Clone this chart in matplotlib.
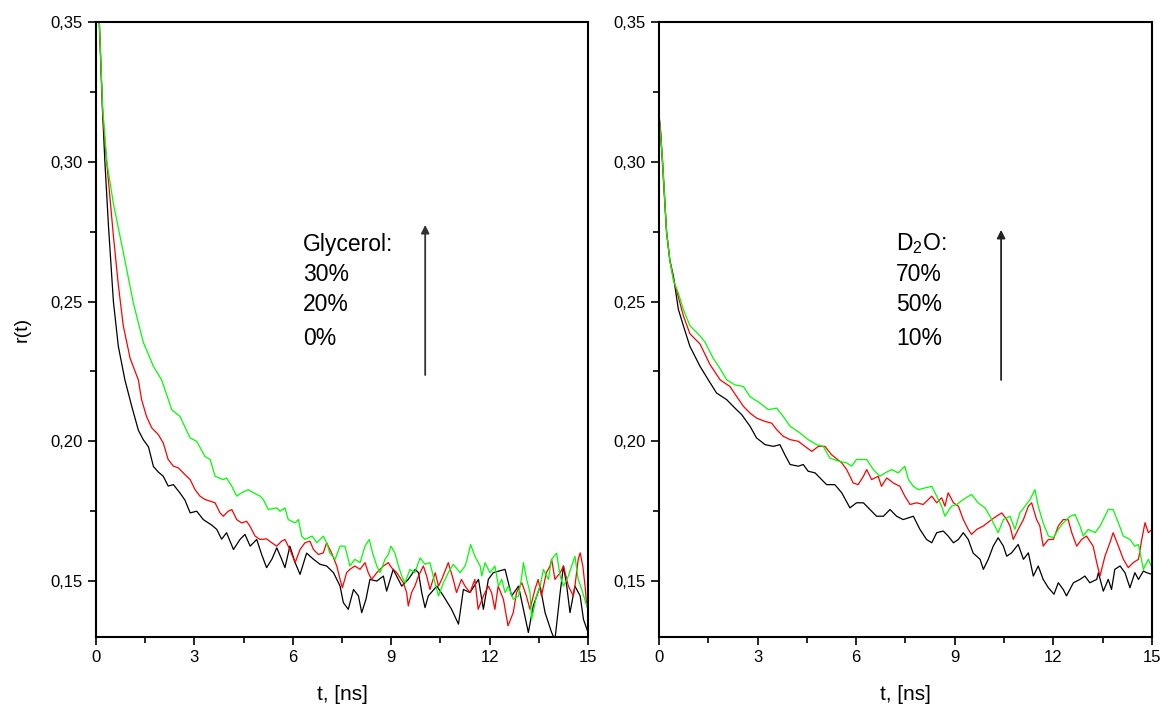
import numpy as np
import matplotlib
matplotlib.use("Agg")
import matplotlib.pyplot as plt
from matplotlib.ticker import MultipleLocator, FuncFormatter

# ---- left panel: glycerol series (t in ns, r(t)) ----
gly0_t = [0.00, 0.10, 0.20, 0.27, 0.38, 0.53, 0.68, 0.88, 1.09, 1.29, 1.44, 1.60, 1.75, 1.90, 2.05, 2.20, 2.36, 2.56, 2.71, 2.87,
          3.07, 3.27, 3.53, 3.68, 3.83, 3.98, 4.19, 4.39, 4.54, 4.70, 4.90, 5.05, 5.20, 5.36, 5.51, 5.66, 5.76, 5.91, 6.07, 6.22,
          6.42, 6.63, 6.83, 7.03, 7.24, 7.44, 7.54, 7.69, 7.85, 8.00, 8.10, 8.23, 8.35, 8.56, 8.76, 8.86, 9.06, 9.32, 9.52, 9.73,
          9.83, 9.93, 10.03, 10.13, 10.39, 10.59, 10.84, 11.05, 11.20, 11.40, 11.66, 11.81, 11.96, 12.11, 12.47, 12.67, 12.88, 13.03, 13.18, 13.33,
          13.54, 13.69, 13.89, 13.99, 14.15, 14.25, 14.35, 14.45, 14.60, 14.76, 14.86, 15.00]
gly0_r = [0.380, 0.350, 0.318, 0.300, 0.277, 0.250, 0.234, 0.222, 0.2125, 0.204, 0.2006, 0.198, 0.191, 0.189, 0.1875, 0.184, 0.1845, 0.1815, 0.179, 0.1744,
          0.175, 0.172, 0.170, 0.1685, 0.165, 0.1673, 0.1613, 0.1649, 0.1667, 0.1625, 0.1649, 0.1595, 0.1548, 0.1578, 0.1619, 0.1578, 0.1548, 0.1625, 0.1566, 0.1524,
          0.160, 0.1578, 0.156, 0.1554, 0.153, 0.1482, 0.1423, 0.1399, 0.147, 0.1447, 0.1387, 0.1435, 0.1506, 0.150, 0.1518, 0.1464, 0.1542, 0.1482, 0.1506, 0.1542,
          0.153, 0.1459, 0.1405, 0.1447, 0.1482, 0.1447, 0.1399, 0.1346, 0.147, 0.1459, 0.1506, 0.1399, 0.1506, 0.153, 0.1542, 0.1447, 0.1482, 0.1399, 0.1316, 0.1411,
          0.1482, 0.1387, 0.1316, 0.129, 0.1459, 0.1554, 0.1482, 0.1387, 0.1482, 0.1447, 0.1363, 0.1316]

gly20_t = [0.00, 0.10, 0.20, 0.27, 0.38, 0.53, 0.68, 0.83, 1.04, 1.29, 1.39, 1.54, 1.70, 1.90, 2.05, 2.20, 2.36, 2.51, 2.66, 2.87,
           3.02, 3.17, 3.32, 3.48, 3.63, 3.78, 3.88, 4.03, 4.14, 4.29, 4.44, 4.59, 4.69, 4.85, 5.00, 5.20, 5.36, 5.51, 5.66, 5.76,
           5.91, 6.07, 6.22, 6.37, 6.52, 6.63, 6.78, 6.93, 7.03, 7.18, 7.34, 7.44, 7.51, 7.64, 7.74, 7.89, 8.05, 8.20, 8.30, 8.40,
           8.56, 8.76, 8.91, 9.01, 9.17, 9.37, 9.47, 9.52, 9.62, 9.72, 9.83, 9.98, 10.08, 10.18, 10.34, 10.44, 10.54, 10.74, 10.89, 10.99,
           11.14, 11.25, 11.40, 11.55, 11.65, 11.81, 11.96, 12.06, 12.16, 12.26, 12.42, 12.56, 12.72, 12.82, 12.98, 13.12, 13.23, 13.38, 13.48, 13.58,
           13.73, 13.84, 13.89, 13.99, 14.15, 14.25, 14.40, 14.55, 14.60, 14.70, 14.76, 14.84, 14.91, 14.96, 15.00]
gly20_r = [0.380, 0.350, 0.318, 0.307, 0.293, 0.2735, 0.256, 0.2414, 0.2297, 0.222, 0.2149, 0.2089, 0.2048, 0.2024, 0.1994, 0.1935, 0.1911, 0.1905, 0.1887, 0.1863,
           0.1827, 0.1804, 0.1792, 0.1786, 0.178, 0.1744, 0.1732, 0.175, 0.1756, 0.172, 0.1708, 0.1714, 0.1697, 0.1661, 0.1649, 0.1651, 0.1637, 0.1625, 0.1643, 0.1649,
           0.1613, 0.1566, 0.1613, 0.1637, 0.1643, 0.1613, 0.1595, 0.1601, 0.1637, 0.1601, 0.1554, 0.1506, 0.1476, 0.153, 0.1542, 0.1554, 0.1542, 0.1566, 0.153, 0.1506,
           0.153, 0.1554, 0.1566, 0.1548, 0.153, 0.1494, 0.1459, 0.1411, 0.1459, 0.1482, 0.1518, 0.1554, 0.1518, 0.147, 0.153, 0.1482, 0.1506, 0.1566, 0.1506, 0.1459,
           0.1506, 0.1482, 0.1459, 0.1506, 0.1399, 0.1447, 0.1482, 0.1459, 0.1399, 0.1482, 0.1435, 0.134, 0.1387, 0.1459, 0.1494, 0.1447, 0.1399, 0.147, 0.1506, 0.1447,
           0.153, 0.1554, 0.1578, 0.1506, 0.153, 0.1554, 0.1482, 0.1447, 0.1482, 0.1578, 0.1601, 0.1554, 0.1482, 0.1411, 0.140]

gly30_t = [0.00, 0.10, 0.20, 0.33, 0.53, 0.83, 1.14, 1.44, 1.75, 2.00, 2.31, 2.56, 2.87, 3.07, 3.32, 3.48, 3.63, 3.88, 3.98, 4.14,
           4.29, 4.44, 4.64, 4.80, 5.00, 5.10, 5.25, 5.51, 5.61, 5.76, 5.86, 6.07, 6.17, 6.27, 6.37, 6.59, 6.73, 6.93, 7.03, 7.13,
           7.29, 7.44, 7.59, 7.74, 7.89, 8.05, 8.20, 8.33, 8.43, 8.56, 8.66, 8.81, 8.91, 8.99, 9.11, 9.22, 9.32, 9.42, 9.57, 9.72,
           9.88, 10.03, 10.18, 10.28, 10.44, 10.59, 10.74, 10.89, 11.10, 11.25, 11.30, 11.42, 11.55, 11.71, 11.76, 11.86, 12.01, 12.16, 12.27, 12.37,
           12.47, 12.57, 12.72, 12.88, 12.98, 13.03, 13.13, 13.23, 13.28, 13.43, 13.54, 13.64, 13.79, 13.89, 14.04, 14.15, 14.25, 14.40, 14.50, 14.60,
           14.70, 14.81, 14.96, 15.00]
gly30_r = [0.380, 0.350, 0.320, 0.300, 0.285, 0.2677, 0.2494, 0.2355, 0.2268, 0.222, 0.2113, 0.2089, 0.2012, 0.200, 0.1946, 0.1935, 0.1875, 0.1863, 0.1869, 0.1839,
           0.1804, 0.1816, 0.1827, 0.1816, 0.1804, 0.1792, 0.1756, 0.1762, 0.175, 0.1762, 0.172, 0.1708, 0.172, 0.1661, 0.1649, 0.1661, 0.1637, 0.1661, 0.1637, 0.160,
           0.1578, 0.1625, 0.1625, 0.1554, 0.1578, 0.1566, 0.1625, 0.1649, 0.1601, 0.1554, 0.153, 0.1578, 0.1595, 0.1625, 0.1601, 0.1554, 0.1518, 0.1494, 0.1542, 0.153,
           0.1583, 0.156, 0.1566, 0.1518, 0.1447, 0.1494, 0.153, 0.156, 0.153, 0.1554, 0.1572, 0.1631, 0.1589, 0.1554, 0.1518, 0.1566, 0.153, 0.1554, 0.1482, 0.1506,
           0.1459, 0.1482, 0.1435, 0.1447, 0.1518, 0.1566, 0.1506, 0.1459, 0.1363, 0.1447, 0.1482, 0.1542, 0.1506, 0.1578, 0.160, 0.1518, 0.1482, 0.1518, 0.1554, 0.1589,
           0.1506, 0.147, 0.1411, 0.143]

# ---- right panel: D2O series ----
d10_t = [0.00, 0.11, 0.23, 0.33, 0.44, 0.59, 0.74, 0.94, 1.25, 1.50, 1.75, 2.06, 2.31, 2.52, 2.77, 2.97, 3.23, 3.48, 3.68, 3.83,
         3.99, 4.24, 4.39, 4.54, 4.75, 4.95, 5.10, 5.35, 5.56, 5.81, 6.01, 6.22, 6.42, 6.62, 6.83, 7.03, 7.23, 7.43, 7.74, 7.94,
         8.14, 8.30, 8.45, 8.65, 8.80, 8.96, 9.11, 9.26, 9.41, 9.56, 9.77, 9.87, 10.02, 10.17, 10.32, 10.48, 10.58, 10.73, 10.93, 11.09,
         11.24, 11.39, 11.54, 11.69, 11.85, 12.02, 12.15, 12.30, 12.40, 12.61, 12.81, 12.96, 13.11, 13.32, 13.37, 13.52, 13.67, 13.77, 13.87, 14.03,
         14.18, 14.33, 14.48, 14.59, 14.74, 14.84, 15.00]
d10_r = [0.317, 0.300, 0.275, 0.2648, 0.259, 0.2472, 0.2414, 0.234, 0.2268, 0.222, 0.2173, 0.2149, 0.2119, 0.2095, 0.2054, 0.2012, 0.1988, 0.1982, 0.1988, 0.1952,
         0.1917, 0.1911, 0.1917, 0.1893, 0.1887, 0.1863, 0.1845, 0.1845, 0.1816, 0.1762, 0.178, 0.178, 0.1756, 0.1732, 0.1732, 0.1756, 0.1732, 0.172, 0.1732, 0.1685,
         0.1649, 0.1637, 0.1673, 0.1679, 0.1661, 0.1637, 0.1649, 0.1673, 0.1649, 0.160, 0.1578, 0.1542, 0.1578, 0.1625, 0.1655, 0.1625, 0.1589, 0.1601, 0.1631, 0.1578,
         0.1601, 0.1518, 0.1554, 0.1506, 0.1476, 0.1453, 0.1494, 0.147, 0.1447, 0.1494, 0.1506, 0.1518, 0.1494, 0.1506, 0.153, 0.1464, 0.1506, 0.147, 0.1542, 0.1554,
         0.153, 0.1476, 0.153, 0.1506, 0.1536, 0.153, 0.1524]

d50_t = [0.00, 0.06, 0.11, 0.23, 0.33, 0.44, 0.59, 0.74, 0.94, 1.25, 1.55, 1.86, 2.16, 2.36, 2.57, 2.77, 2.97, 3.23, 3.43, 3.58,
         3.78, 3.99, 4.24, 4.44, 4.65, 4.85, 5.05, 5.25, 5.56, 5.71, 5.91, 6.06, 6.22, 6.32, 6.47, 6.67, 6.77, 6.93, 7.13, 7.33,
         7.48, 7.64, 7.84, 8.04, 8.30, 8.45, 8.60, 8.70, 8.80, 8.96, 9.11, 9.26, 9.41, 9.51, 9.67, 9.87, 10.12, 10.27, 10.43, 10.58,
         10.68, 10.78, 10.93, 11.09, 11.24, 11.34, 11.49, 11.59, 11.69, 11.85, 12.00, 12.15, 12.30, 12.45, 12.56, 12.71, 12.86, 13.01, 13.21, 13.32,
         13.42, 13.57, 13.72, 13.82, 13.98, 14.13, 14.28, 14.43, 14.59, 14.69, 14.79, 14.89, 15.00]
d50_r = [0.317, 0.310, 0.298, 0.275, 0.2648, 0.258, 0.2516, 0.245, 0.2385, 0.2348, 0.2275, 0.222, 0.2196, 0.2161, 0.2125, 0.2101, 0.2083, 0.2071, 0.2065, 0.2042,
         0.2018, 0.2006, 0.200, 0.1982, 0.1964, 0.1982, 0.1982, 0.1952, 0.1923, 0.1899, 0.1851, 0.1845, 0.1875, 0.1899, 0.1863, 0.1875, 0.1839, 0.1869, 0.1851, 0.1839,
         0.1804, 0.1774, 0.178, 0.1774, 0.1804, 0.178, 0.1798, 0.1768, 0.1816, 0.178, 0.1768, 0.172, 0.1685, 0.1667, 0.1685, 0.1697, 0.172, 0.1732, 0.1744, 0.172,
         0.1697, 0.1649, 0.1685, 0.172, 0.1768, 0.178, 0.172, 0.1697, 0.1625, 0.1649, 0.1649, 0.1697, 0.172, 0.172, 0.1673, 0.1625, 0.1649, 0.1661, 0.1625, 0.1566,
         0.1518, 0.1589, 0.1637, 0.1673, 0.1625, 0.1578, 0.1548, 0.1566, 0.1578, 0.1649, 0.1709, 0.1673, 0.1685]

d70_t = [0.00, 0.11, 0.23, 0.33, 0.44, 0.59, 0.74, 0.94, 1.25, 1.40, 1.65, 1.86, 2.06, 2.31, 2.57, 2.77, 3.07, 3.33, 3.58, 3.78,
         3.99, 4.29, 4.54, 4.80, 5.00, 5.20, 5.46, 5.71, 5.86, 6.01, 6.32, 6.52, 6.72, 6.88, 7.08, 7.28, 7.48, 7.59, 7.74, 7.89,
         8.09, 8.30, 8.45, 8.60, 8.70, 8.90, 9.06, 9.26, 9.51, 9.71, 9.92, 10.07, 10.22, 10.32, 10.48, 10.68, 10.83, 10.98, 11.14, 11.29,
         11.44, 11.54, 11.69, 11.85, 12.00, 12.15, 12.30, 12.51, 12.66, 12.81, 12.91, 13.06, 13.27, 13.42, 13.52, 13.67, 13.82, 13.98, 14.13, 14.33,
         14.48, 14.59, 14.74, 14.89, 15.00]
d70_r = [0.317, 0.300, 0.275, 0.2648, 0.2575, 0.253, 0.2472, 0.2414, 0.2377, 0.2355, 0.2297, 0.226, 0.222, 0.2202, 0.2196, 0.216, 0.2137, 0.2113, 0.2119, 0.2089,
         0.2054, 0.203, 0.2006, 0.1988, 0.1982, 0.194, 0.1929, 0.1923, 0.1911, 0.1935, 0.1935, 0.1899, 0.1875, 0.1887, 0.1899, 0.1887, 0.1911, 0.1863, 0.1839, 0.1827,
         0.1833, 0.1839, 0.1804, 0.1768, 0.1732, 0.1768, 0.1774, 0.1792, 0.181, 0.178, 0.1762, 0.1732, 0.1697, 0.1673, 0.172, 0.1732, 0.1685, 0.1744, 0.1768, 0.1792,
         0.1827, 0.1768, 0.1708, 0.1661, 0.1655, 0.1685, 0.1708, 0.1732, 0.1738, 0.1697, 0.1661, 0.1685, 0.1673, 0.1697, 0.172, 0.1756, 0.1756, 0.1708, 0.1661, 0.1649,
         0.1625, 0.1631, 0.1542, 0.1578, 0.1548]

left_series = [(gly0_t, gly0_r, 'black'), (gly20_t, gly20_r, '#ff0000'), (gly30_t, gly30_r, '#00ff00')]
right_series = [(d10_t, d10_r, 'black'), (d50_t, d50_r, '#ff0000'), (d70_t, d70_r, '#00ff00')]
left_labels = ['Glycerol:', '30%', '20%', '0%']
right_labels = [r'D$_{\mathregular{2}}$O:', '70%', '50%', '10%']

plt.rcParams['font.family'] = ['Liberation Sans', 'DejaVu Sans']
plt.rcParams['mathtext.fontset'] = 'custom'
plt.rcParams['mathtext.rm'] = 'Liberation Sans'

fig = plt.figure(figsize=(11.61, 7.08), dpi=100)
ax1 = fig.add_axes([0.0827, 0.1003, 0.4238, 0.8686])
ax2 = fig.add_axes([0.5676, 0.1003, 0.4246, 0.8686])

comma = FuncFormatter(lambda v, p: ('%.2f' % v).replace('.', ','))

for ax, series in [(ax1, left_series), (ax2, right_series)]:
    for t, r, c in series:
        ax.plot(t, r, color=c, lw=0.9)
    ax.set_xlim(0, 15)
    ax.set_ylim(0.13, 0.35)
    ax.xaxis.set_major_locator(MultipleLocator(3))
    ax.xaxis.set_minor_locator(MultipleLocator(1.5))
    ax.yaxis.set_major_locator(MultipleLocator(0.05))
    ax.yaxis.set_minor_locator(MultipleLocator(0.025))
    ax.yaxis.set_major_formatter(comma)
    ax.tick_params(which='major', direction='out', length=6, width=1.2, labelsize=12)
    ax.tick_params(which='minor', direction='out', length=4, width=1.2)
    for sp in ax.spines.values():
        sp.set_linewidth(1.5)
    ax.set_xlabel('t, [ns]', fontsize=15, labelpad=14)

ax1.set_ylabel('r(t)', fontsize=14, labelpad=14)

# annotation text and arrows
ys = [0.639, 0.590, 0.540, 0.486]
for txt, y in zip(left_labels, ys):
    ax1.text(0.421, y, txt, transform=ax1.transAxes, fontsize=16.5, va='center', ha='left')
for txt, y in zip(right_labels, ys):
    ax2.text(0.481, y, txt, transform=ax2.transAxes, fontsize=16.5, va='center', ha='left')

ax1.annotate('', xy=(0.669, 0.670), xytext=(0.669, 0.426), xycoords='axes fraction',
             arrowprops=dict(arrowstyle='-|>', color='#333333', lw=1.3, mutation_scale=12, shrinkA=0, shrinkB=0))
ax2.annotate('', xy=(0.694, 0.662), xytext=(0.694, 0.418), xycoords='axes fraction',
             arrowprops=dict(arrowstyle='-|>', color='#222222', lw=1.3, mutation_scale=12, shrinkA=0, shrinkB=0))

fig.savefig('out.png', dpi=100)
